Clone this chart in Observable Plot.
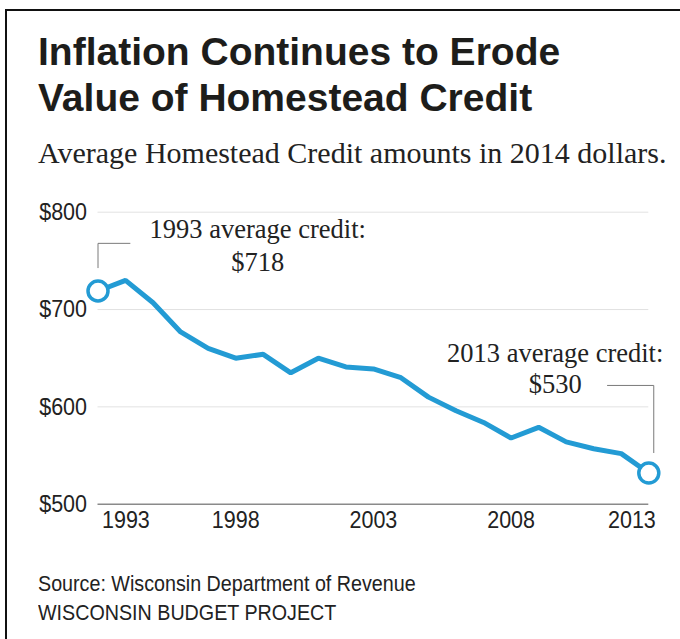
<!DOCTYPE html>
<html><head><meta charset="utf-8">
<script src="https://cdn.jsdelivr.net/npm/d3@7"></script>
<script src="https://cdn.jsdelivr.net/npm/@observablehq/plot@0.6"></script>
<style>
html,body{margin:0;padding:0;background:#fff;}
#page{position:relative;width:680px;height:639px;overflow:hidden;background:#fff;}
#frame{position:absolute;left:5px;top:9px;right:-10px;bottom:-10px;border-top:2px solid #111;border-left:2px solid #111;z-index:5;pointer-events:none;}
h1{position:absolute;left:38px;top:29px;margin:0;font:bold 39px/46px "Liberation Sans",Arial,sans-serif;color:#1d1d1b;white-space:nowrap;}
#sub{position:absolute;left:38px;top:136px;margin:0;font:30px "Liberation Serif","Times New Roman",serif;color:#222;white-space:nowrap;}
#chart{position:absolute;left:0;top:180px;}
#chart svg{background:transparent !important;}
#source{position:absolute;left:38px;top:570px;font:21.5px/29px "Liberation Sans",Arial,sans-serif;color:#222;white-space:nowrap;transform:scaleX(0.916);transform-origin:0 0;}
</style></head>
<body>
<div id="page">
  <div id="frame"></div>
  <h1>Inflation Continues to Erode<br>Value of Homestead Credit</h1>
  <div id="sub">Average Homestead Credit amounts in 2014 dollars.</div>
  <div id="chart"></div>
  <div id="source">Source: Wisconsin Department of Revenue<br>WISCONSIN BUDGET PROJECT</div>
</div>
<script>
// ---- data ----
const years = [1993,1994,1995,1996,1997,1998,1999,2000,2001,2002,2003,2004,2005,2006,2007,2008,2009,2010,2011,2012,2013];
const credit = [719,730,707,677,660,650,654,635,650,641,639,630,610,596,584,568,579,564,557,552,532];
const yTicks = [500,600,700,800];
const xTicksFirst = [1993];
const xTicksMid = [1998,2003,2008];
const xTicksLast = [2013];
const noteFirst = "1993 average credit:\n$718";
const noteLast = "2013 average credit:\n$530";

const data = years.map((year, i) => ({year, credit: credit[i]}));
const ends = [data[0], data[data.length - 1]];
const blue = "#239bd4";
const H = 360;
const axisFont = {fontFamily: "Liberation Sans, Arial, sans-serif", fontSize: 24, fill: "#222"};
const noteFont = {fontFamily: "Liberation Serif, Times New Roman, serif", fontSize: 26.5, fill: "#222"};

const chart = Plot.plot({
  width: 680,
  height: H,
  marginLeft: 97.5,
  marginRight: 31.7,
  marginTop: 31.7,
  marginBottom: H - 323.7,
  x: {domain: [1993, 2013], label: null},
  y: {domain: [500, 800], label: null},
  style: {background: "transparent", overflow: "visible", color: "#222"},
  marks: [
    Plot.ruleY(yTicks.filter(d => d > 500), {stroke: "#e2e2e2", strokeWidth: 1}),
    Plot.ruleY([500], {stroke: "#8a8a8a", strokeWidth: 1.4}),
    Plot.axisY(yTicks, {label: null, tickSize: 0, tickPadding: 11, tickFormat: d => "$" + d, ...axisFont}),
    Plot.axisX(xTicksFirst, {label: null, tickSize: 0, tickPadding: 7, tickFormat: d => String(d), textAnchor: "start", dx: 4, ...axisFont}),
    Plot.axisX(xTicksMid, {label: null, tickSize: 0, tickPadding: 7, tickFormat: d => String(d), ...axisFont}),
    Plot.axisX(xTicksLast, {label: null, tickSize: 0, tickPadding: 7, tickFormat: d => String(d), textAnchor: "end", dx: 7, ...axisFont}),
    // leader lines for annotations
    Plot.line([[1993, 743], [1993, 768], [1994.16, 768]], {stroke: "#7a7a7a", strokeWidth: 1}),
    Plot.line([[2011.5, 622], [2013.18, 622], [2013.18, 553]], {stroke: "#7a7a7a", strokeWidth: 1}),
    Plot.text([noteFirst], {x: () => 1998.8, y: () => 740, text: d => d, lineAnchor: "bottom", lineHeight: 1.245, textAnchor: "middle", ...noteFont}),
    Plot.text([noteLast], {x: () => 2009.6, y: () => 614, text: d => d, lineAnchor: "bottom", lineHeight: 1.17, textAnchor: "middle", ...noteFont}),
    Plot.line(data, {x: "year", y: "credit", stroke: blue, strokeWidth: 5, strokeLinejoin: "miter", strokeLinecap: "butt"}),
    Plot.dot(ends, {x: "year", y: "credit", r: 10, fill: "white", stroke: blue, strokeWidth: 3.5})
  ]
});
document.getElementById("chart").appendChild(chart);
// condense the tick labels slightly (the reference uses a narrow sans face)
chart.querySelectorAll('g[aria-label$="tick label"] text').forEach(t => {
  const w = t.getComputedTextLength();
  t.setAttribute("textLength", (w * 0.896).toFixed(1));
  t.setAttribute("lengthAdjust", "spacingAndGlyphs");
});
</script>
</body></html>
